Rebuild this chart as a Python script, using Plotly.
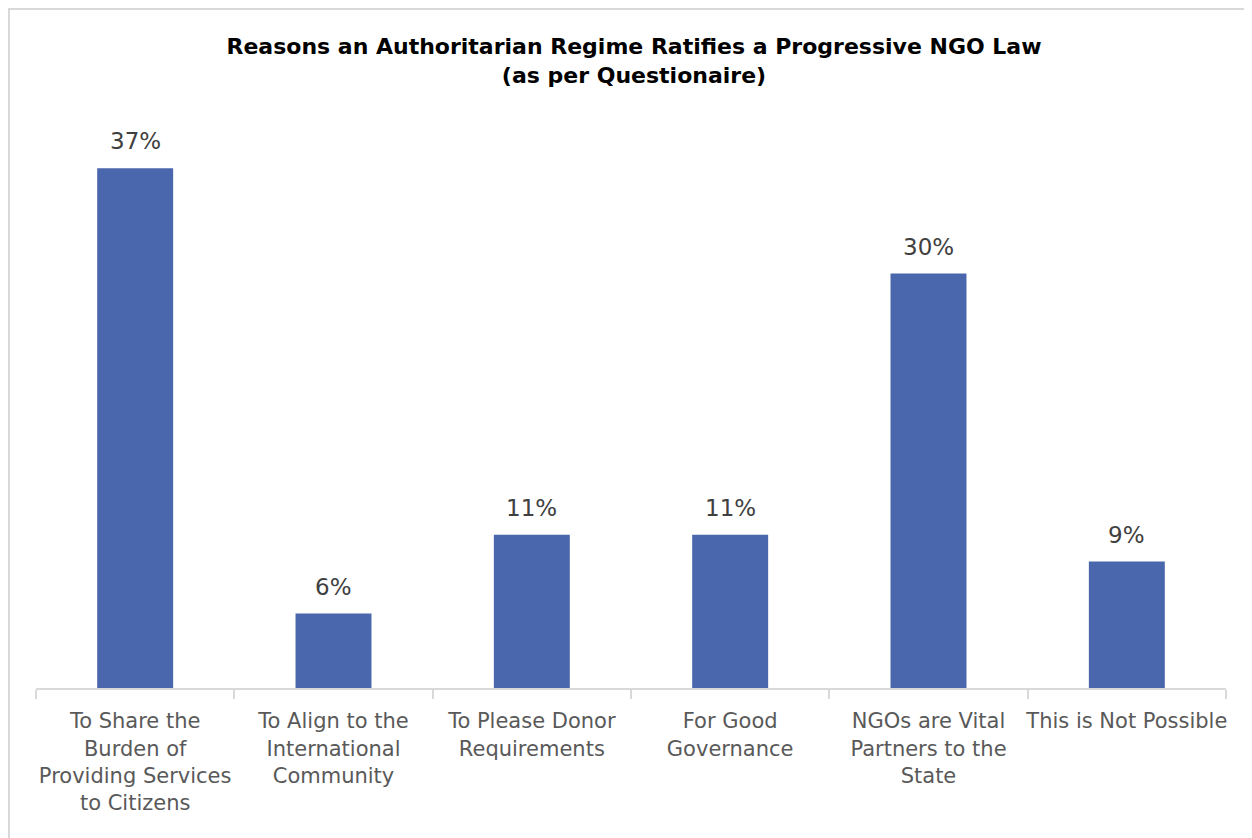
import plotly.graph_objects as go

categories = [
    "To Share the<br>Burden of<br>Providing Services<br>to Citizens",
    "To Align to the<br>International<br>Community",
    "To Please Donor<br>Requirements",
    "For Good<br>Governance",
    "NGOs are Vital<br>Partners to the<br>State",
    "This is Not Possible",
]
values = [37.0, 5.3, 10.9, 10.9, 29.5, 9.0]
value_labels = ["37%", "6%", "11%", "11%", "30%", "9%"]

title_text = "Reasons an Authoritarian Regime Ratifies a Progressive NGO Law<br>(as per Questionaire)"

BAR_COLOR = "#4A66AD"
AXIS_COLOR = "#D9D9D9"
TEXT_COLOR = "#595959"

# figure-pixel layout (page is offset by the 8px body margin)
L, R, T, B = 28, 34, 118, 158
W, H = 1252, 838
PW, PH = W - L - R, H - T - B

fig = go.Figure()
fig.add_trace(go.Bar(
    x=categories,
    y=values,
    marker=dict(color=BAR_COLOR, line=dict(width=0)),
    width=0.383,
    hoverinfo="skip",
))

for c, v, t in zip(categories, values, value_labels):
    fig.add_annotation(
        x=c, y=v, text=t, showarrow=False, yanchor="bottom", yshift=12,
        font=dict(family="DejaVu Sans", size=23, color="#404040"),
    )

# outer chart border
fig.add_shape(type="rect", xref="paper", yref="paper",
              x0=(1 - L) / PW, x1=(1242 - L) / PW,
              y0=(H - B - 845) / PH, y1=(H - B - 1) / PH,
              line=dict(color=AXIS_COLOR, width=2), fillcolor="rgba(0,0,0,0)", layer="below")

fig.update_layout(
    width=W, height=H,
    margin=dict(l=L, r=R, t=T, b=B),
    paper_bgcolor="white", plot_bgcolor="white",
    showlegend=False,
    title=dict(
        text=title_text, x=0.5, xanchor="center", y=1 - 46 / H, yanchor="middle",
        font=dict(family="DejaVu Sans", size=22, color="black", weight="bold"),
    ),
    xaxis=dict(
        showline=True, linecolor=AXIS_COLOR, linewidth=2,
        ticks="outside", tickson="boundaries", ticklen=9, tickcolor=AXIS_COLOR, tickwidth=2,
        ticklabelstandoff=13, tickangle=0,
        tickfont=dict(family="DejaVu Sans", size=21, color=TEXT_COLOR),
        showgrid=False, zeroline=False,
    ),
    yaxis=dict(
        range=[0, 40], visible=False, showgrid=False, zeroline=False,
    ),
)

fig.write_html("out.html", config={"displayModeBar": False})
